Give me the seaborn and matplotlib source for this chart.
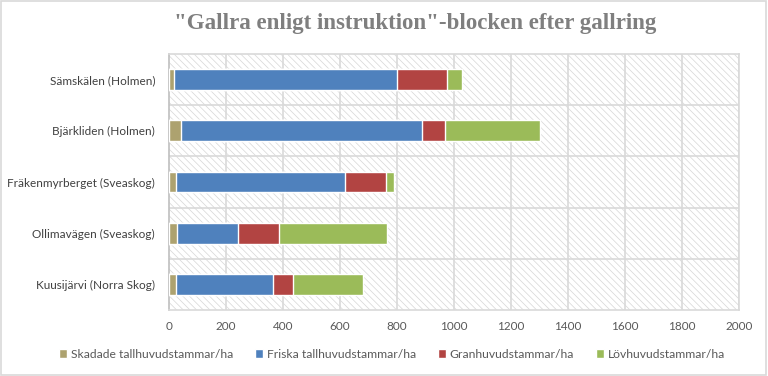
import matplotlib
matplotlib.use("Agg")
import matplotlib.pyplot as plt
import seaborn as sns
import pandas as pd
import numpy as np
from matplotlib.patches import Rectangle

categories = ["Sämskälen (Holmen)", "Bjärkliden (Holmen)", "Fräkenmyrberget (Sveaskog)",
              "Ollimavägen (Sveaskog)", "Kuusijärvi (Norra Skog)"]
series_names = ["Skadade tallhuvudstammar/ha", "Friska tallhuvudstammar/ha",
                "Granhuvudstammar/ha", "Lövhuvudstammar/ha"]
skadade = [16, 42, 24, 27, 24]
friska = [784, 845, 594, 216, 341]
gran = [177, 83, 144, 144, 71]
lov = [51, 332, 28, 378, 244]
xticks = [0, 200, 400, 600, 800, 1000, 1200, 1400, 1600, 1800, 2000]
colors = ["#ADA26F", "#4F81BD", "#B24442", "#9BBB59"]
title = '"Gallra enligt instruktion"-blocken efter gallring'

sns.set_theme(style="white")
plt.rcParams['font.family'] = ['Lato', 'DejaVu Sans']
plt.rcParams['hatch.color'] = '#d9d9d9'
plt.rcParams['hatch.linewidth'] = 0.55

fig = plt.figure(figsize=(7.68, 3.76), dpi=100)
ax = fig.add_axes([169/768, 1-310/376, 570/768, 256/376])

vals = np.array([skadade, friska, gran, lov], dtype=float)
cums = np.cumsum(vals, axis=0)

bg = Rectangle((0, 0), 1, 1, transform=ax.transAxes, facecolor='white',
               edgecolor='#d9d9d9', hatch='\\\\\\\\\\', linewidth=0, zorder=0)
ax.add_patch(bg)

for i in range(3, -1, -1):
    df = pd.DataFrame({"cat": categories, "val": cums[i]})
    sns.barplot(data=df, y="cat", x="val", orient="h", color=colors[i],
                saturation=1, width=0.41, ax=ax, zorder=3, label=series_names[i])

handles, labels = ax.get_legend_handles_labels()
if ax.get_legend() is not None:
    ax.get_legend().remove()

ax.set_xlim(0, 2000)
ax.set_ylim(4.5, -0.5)
ax.set_xticks(xticks)
ax.set_xticklabels([str(t) for t in xticks], fontsize=8.5, color='#595959')
ax.tick_params(axis='y', labelsize=8.5, labelcolor='#404040', length=0, pad=10)
ax.tick_params(axis='x', length=0, pad=8)
ax.set_xlabel("")
ax.set_ylabel("")
for x in xticks[1:]:
    ax.axvline(x, color='#d9d9d9', lw=1.2, zorder=1)
for y in [0.5, 1.5, 2.5, 3.5]:
    ax.axhline(y, color='#d9d9d9', lw=1.2, zorder=1)
for s in ax.spines.values():
    s.set_color('#d9d9d9')
    s.set_linewidth(1.2)
ax.spines['left'].set_color('#bfbfbf')

fig.text(415/768, 1-23/376, title, ha='center', va='center', fontsize=16.5,
         fontweight='bold', color='#7f7f7f', family=['Liberation Serif', 'DejaVu Serif'])

order = [labels.index(n) for n in series_names]
leg = fig.legend([handles[k] for k in order], [labels[k] for k in order],
                 loc='center', bbox_to_anchor=(392/768, 1-354/376), ncol=4, frameon=False,
                 fontsize=8.7, handlelength=0.7, handleheight=0.7, handletextpad=0.3,
                 columnspacing=1.8)
for t in leg.get_texts():
    t.set_color('#595959')

fig.patches.append(Rectangle((0.001, 0.002), 0.997, 0.995, transform=fig.transFigure,
                             facecolor='none', edgecolor='#d9d9d9', lw=1.2))
fig.savefig("out.png", dpi=100)
